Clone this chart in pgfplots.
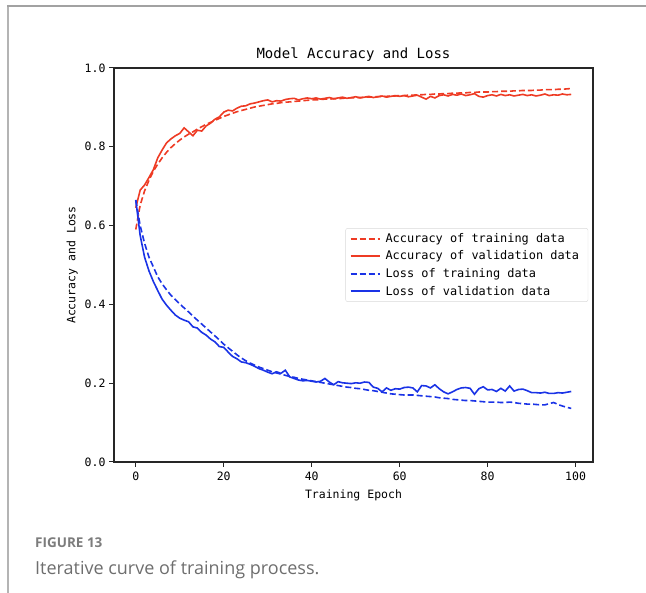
\documentclass[border=0pt]{standalone}
\usepackage{fontspec}
\usepackage{pgfplots}
\pgfplotsset{compat=1.18}
\usepackage{pgfplotstable}
\setmainfont{DejaVu Sans Mono}
\newfontfamily\capfont{Open Sans}

\definecolor{accred}{HTML}{EE3B24}
\definecolor{lossblue}{HTML}{1A33E6}
\definecolor{framegray}{HTML}{B4B4B4}
\definecolor{capgray}{HTML}{6E6E6E}

% epoch, training accuracy, validation accuracy, training loss, validation loss
\pgfplotstableread{
ep  acctr  accva  losstr lossva
0   0.590  0.645  0.665  0.665
1   0.652  0.690  0.600  0.575
2   0.688  0.703  0.555  0.520
3   0.715  0.722  0.520  0.485
4   0.738  0.742  0.495  0.458
5   0.756  0.772  0.470  0.435
6   0.772  0.792  0.452  0.413
7   0.786  0.810  0.437  0.398
8   0.798  0.820  0.423  0.385
9   0.808  0.828  0.412  0.373
10  0.817  0.834  0.401  0.365
11  0.825  0.848  0.391  0.360
12  0.832  0.838  0.381  0.356
13  0.838  0.828  0.370  0.343
14  0.845  0.842  0.360  0.340
15  0.851  0.840  0.350  0.329
16  0.857  0.853  0.340  0.322
17  0.862  0.860  0.330  0.312
18  0.867  0.870  0.320  0.305
19  0.872  0.876  0.310  0.293
20  0.877  0.888  0.299  0.291
21  0.881  0.893  0.290  0.279
22  0.885  0.891  0.281  0.268
23  0.889  0.898  0.272  0.262
24  0.892  0.903  0.264  0.254
25  0.895  0.904  0.257  0.252
26  0.898  0.909  0.251  0.248
27  0.901  0.911  0.246  0.243
28  0.903  0.914  0.241  0.237
29  0.905  0.917  0.237  0.233
30  0.907  0.919  0.233  0.228
31  0.909  0.914  0.229  0.224
32  0.910  0.917  0.226  0.229
33  0.912  0.916  0.223  0.225
34  0.913  0.920  0.220  0.233
35  0.914  0.922  0.217  0.216
36  0.915  0.923  0.215  0.212
37  0.916  0.919  0.212  0.208
38  0.917  0.922  0.210  0.206
39  0.918  0.924  0.208  0.207
40  0.919  0.922  0.206  0.205
41  0.919  0.924  0.204  0.203
42  0.920  0.921  0.202  0.205
43  0.921  0.923  0.200  0.212
44  0.921  0.925  0.198  0.203
45  0.922  0.922  0.196  0.196
46  0.922  0.924  0.194  0.204
47  0.923  0.926  0.192  0.201
48  0.924  0.923  0.190  0.200
49  0.924  0.925  0.189  0.199
50  0.925  0.927  0.187  0.201
51  0.925  0.924  0.186  0.200
52  0.926  0.926  0.184  0.203
53  0.926  0.928  0.182  0.202
54  0.927  0.925  0.181  0.190
55  0.927  0.927  0.179  0.187
56  0.928  0.929  0.177  0.178
57  0.928  0.926  0.175  0.188
58  0.929  0.928  0.173  0.182
59  0.929  0.930  0.172  0.186
60  0.930  0.928  0.171  0.185
61  0.930  0.930  0.170  0.189
62  0.931  0.927  0.170  0.190
63  0.931  0.929  0.170  0.188
64  0.932  0.931  0.169  0.178
65  0.932  0.926  0.168  0.194
66  0.933  0.921  0.167  0.193
67  0.933  0.928  0.166  0.188
68  0.934  0.924  0.165  0.196
69  0.934  0.930  0.163  0.186
70  0.935  0.932  0.162  0.178
71  0.935  0.929  0.161  0.173
72  0.936  0.933  0.159  0.178
73  0.936  0.931  0.158  0.184
74  0.937  0.934  0.157  0.188
75  0.937  0.930  0.156  0.189
76  0.938  0.932  0.156  0.187
77  0.938  0.935  0.155  0.172
78  0.939  0.928  0.154  0.186
79  0.939  0.926  0.153  0.191
80  0.939  0.930  0.152  0.183
81  0.940  0.932  0.152  0.184
82  0.940  0.929  0.152  0.179
83  0.941  0.933  0.151  0.187
84  0.941  0.930  0.151  0.180
85  0.941  0.932  0.152  0.193
86  0.942  0.929  0.151  0.180
87  0.942  0.931  0.149  0.184
88  0.943  0.933  0.148  0.185
89  0.943  0.930  0.147  0.181
90  0.943  0.932  0.147  0.176
91  0.944  0.929  0.146  0.176
92  0.944  0.931  0.145  0.175
93  0.945  0.934  0.145  0.177
94  0.945  0.930  0.148  0.174
95  0.945  0.932  0.151  0.174
96  0.946  0.931  0.146  0.176
97  0.946  0.934  0.142  0.175
98  0.947  0.932  0.139  0.177
99  0.948  0.933  0.136  0.179
}\history

\begin{document}
\begin{tikzpicture}[x=1pt,y=-1pt]
\useasboundingbox (0,0) rectangle (646,593);
% page frame
\draw[framegray, line width=2pt] (8,5) -- (8,593);
\draw[framegray!90!black, line width=1.2pt] (7,6) -- (646,6);

\begin{axis}[
  at={(114pt,-462pt)}, anchor=south west,
  scale only axis, width=479pt, height=394pt,
  xmin=-4.95, xmax=103.95, ymin=0, ymax=1,
  xtick={0,20,...,100}, ytick={0,0.2,...,1.0},
  yticklabel style={/pgf/number format/.cd, fixed, fixed zerofill, precision=1},
  /pgf/number format/assume math mode=true,
  tick align=outside, tick pos=left,
  major tick length=5pt,
  tick style={black!85, line width=1pt},
  axis line style={black!85, line width=1.1pt},
  ticklabel style={font=\fontsize{11.5}{13}\selectfont},
  xticklabel style={yshift=-1pt},
  title={Model Accuracy and Loss},
  title style={font=\fontsize{14}{16}\selectfont, yshift=-3pt},
  xlabel={Training Epoch},
  ylabel={Accuracy and Loss},
  label style={font=\fontsize{11.5}{13}\selectfont},
  xlabel style={yshift=-3pt},
  ylabel style={yshift=0pt},
  legend style={at={(0.99,0.5)}, anchor=east, draw=black!15, rounded corners=2pt,
    font=\fontsize{11.9}{13.5}\selectfont, row sep=3pt, inner xsep=4pt, inner ysep=3pt,
    nodes={inner xsep=5pt}},
  legend cell align=left,
  legend image code/.code={\draw[#1, line width=1.9pt] (0pt,0pt) -- (29pt,0pt);},
  every axis plot/.append style={line width=1.6pt},
]
\addplot[accred, dash pattern=on 6pt off 3pt] table[x=ep, y=acctr] {\history};
\addlegendentry{Accuracy of training data}
\addplot[accred] table[x=ep, y=accva] {\history};
\addlegendentry{Accuracy of validation data}
\addplot[lossblue, dash pattern=on 6pt off 3pt] table[x=ep, y=losstr] {\history};
\addlegendentry{Loss of training data}
\addplot[lossblue] table[x=ep, y=lossva] {\history};
\addlegendentry{Loss of validation data}
\end{axis}

\node[anchor=base west, inner sep=0, text=capgray!90, font=\capfont\bfseries\fontsize{13.5}{15}\selectfont] at (35,548) {FIGURE 13};
\node[anchor=base west, inner sep=0, text=capgray, font=\capfont\fontsize{18}{21}\selectfont] at (35,575) {Iterative curve of training process.};
\end{tikzpicture}
\end{document}
